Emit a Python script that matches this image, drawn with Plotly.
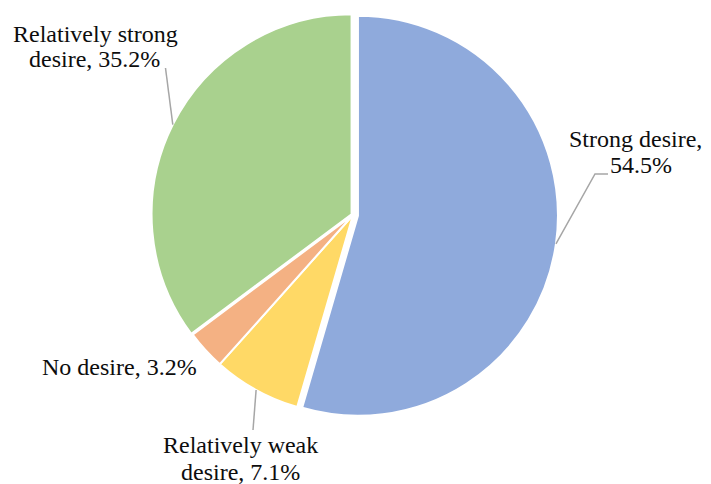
import math
import plotly.graph_objects as go

categories = ["Strong desire", "Relatively weak desire", "No desire", "Relatively strong desire"]
values = [54.5, 7.1, 3.2, 35.2]
label_lines = [["Strong desire,", "54.5%"], ["Relatively weak", "desire, 7.1%"], ["No desire, 3.2%"], ["Relatively strong", "desire, 35.2%"]]
colors = ["#8FAADC", "#FFD966", "#F4B183", "#A9D18E"]
pulls = [0.025, 0.0, 0.0, 0.008]

W, H = 711, 484
OFF = 8  # page body margin
CX, CY, R = 353, 215, 200
MAXP = max(pulls)
FONT = "Liberation Serif"
FS = 24

def px(x):
    return (x - OFF) / W

def py(y):
    return 1 - (y - OFF) / H

half = R * (1 + MAXP)
fig = go.Figure(go.Pie(
    labels=categories, values=values, sort=False, direction="clockwise", rotation=0,
    marker=dict(colors=colors, line=dict(color="white", width=2)),
    pull=pulls, textinfo="none", hoverinfo="label+percent", showlegend=False,
    domain=dict(x=[px(CX - half), px(CX + half)], y=[py(CY + half), py(CY - half)]),
))

# per-line text centres (x) and baselines (y) in page pixels
label_x = [[635, 641], [241, 241], [119], [95, 94]]
label_base = [[146.7, 173], [453, 480], [375], [41.7, 66.7]]
leader_to = [[(595, 174), (608, 174)], [(253, 430)], None, [(165.5, 68)]]

total = sum(values)
start = 0.0
annotations = []
shapes = []
for i, v in enumerate(values):
    ang = start + v / total * 360 / 2
    start += v / total * 360
    rr = R * (1 + pulls[i])
    ex = CX + rr * math.sin(math.radians(ang))
    ey = CY - rr * math.cos(math.radians(ang))
    for j, line in enumerate(label_lines[i]):
        annotations.append(dict(x=px(label_x[i][j]), y=py(label_base[i][j] - 0.3375 * FS), xref="paper", yref="paper",
                                text=line, showarrow=False, xanchor="center", yanchor="middle",
                                font=dict(family=FONT, size=FS, color="#0d0d0d")))
    if leader_to[i]:
        pts = [(ex, ey)] + leader_to[i]
        path = "M " + " L ".join(f"{px(a):.5f},{py(b):.5f}" for a, b in pts)
        shapes.append(dict(type="path", path=path, xref="paper", yref="paper",
                           line=dict(color="#A6A6A6", width=1.5)))

fig.update_layout(width=W, height=H, margin=dict(l=0, r=0, t=0, b=0),
                  paper_bgcolor="white", plot_bgcolor="white",
                  font=dict(family=FONT),
                  annotations=annotations, shapes=shapes)
fig.write_html("out.html")
